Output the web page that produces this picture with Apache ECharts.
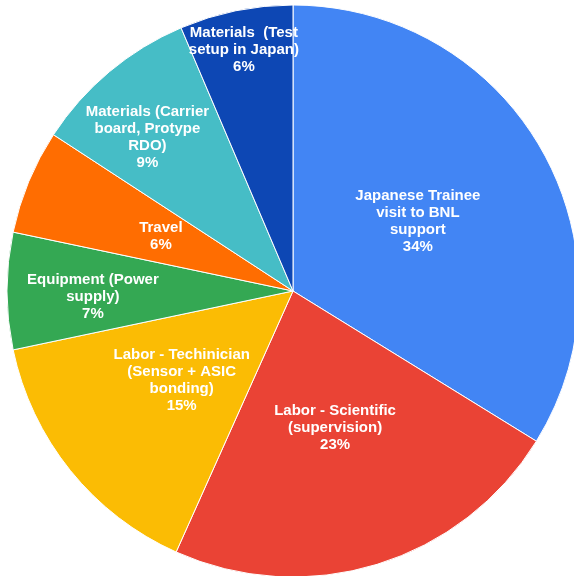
<!DOCTYPE html>
<html>
<head>
<meta charset="utf-8">
<script src="https://cdn.jsdelivr.net/npm/echarts@6/dist/echarts.min.js"></script>
<style>
  html, body { margin: 0; padding: 0; background: #ffffff; }
  #chart { width: 574px; height: 576px; }
</style>
</head>
<body>
<div id="chart"></div>
<script>
// Budget breakdown categories (clockwise from 12 o'clock)
const categories = [
  'Japanese Trainee\nvisit to BNL\nsupport',
  'Labor - Scientific\n(supervision)',
  'Labor - Techinician\n(Sensor + ASIC\nbonding)',
  'Equipment (Power\nsupply)',
  'Travel',
  'Materials (Carrier\nboard, Protype\nRDO)',
  'Materials  (Test\nsetup in Japan)'
];
// Share of the budget, in percent
const shares = [33.8, 22.9, 15.0, 6.6, 5.9, 9.4, 6.4];
const colors = ['#4285F4', '#EA4335', '#FBBC04', '#34A853', '#FF6D01', '#46BDC6', '#0D47B4'];
// Label placement inside each slice: fraction of the radius, and a small turn in degrees
const labelDepth = [0.5, 0.5, 0.5, 0.70, 0.5, 0.74, 0.86];
const labelTurn = [0, 0, 0, -1.7, 0, -3.5, 0];

const CX = 293, CY = 291, R = 286;
const total = shares.reduce((a, b) => a + b, 0);

const chart = echarts.init(document.getElementById('chart'));
chart.setOption({
  animation: false,
  backgroundColor: '#ffffff',
  series: [{
    type: 'pie',
    center: [CX, CY],
    radius: [0, R],
    startAngle: 90,
    clockwise: true,
    percentPrecision: 0,
    avoidLabelOverlap: false,
    itemStyle: { borderColor: '#ffffff', borderWidth: 1 },
    label: {
      show: true,
      position: 'inside',
      formatter: '{b}\n{d}%',
      color: '#ffffff',
      fontFamily: 'Liberation Sans, Arial, sans-serif',
      fontWeight: 'bold',
      fontSize: 15,
      lineHeight: 17,
      align: 'center'
    },
    labelLayout: function (p) {
      const i = p.dataIndex;
      let before = 0;
      for (let k = 0; k < i; k++) before += shares[k];
      const mid = (before + shares[i] / 2) / total * Math.PI * 2 + labelTurn[i] * Math.PI / 180;
      const d = labelDepth[i] * R;
      return { x: CX + d * Math.sin(mid), y: CY - d * Math.cos(mid) };
    },
    emphasis: { disabled: true },
    data: categories.map((name, i) => ({
      name: name,
      value: shares[i],
      itemStyle: { color: colors[i] }
    }))
  }]
});
</script>
</body>
</html>
